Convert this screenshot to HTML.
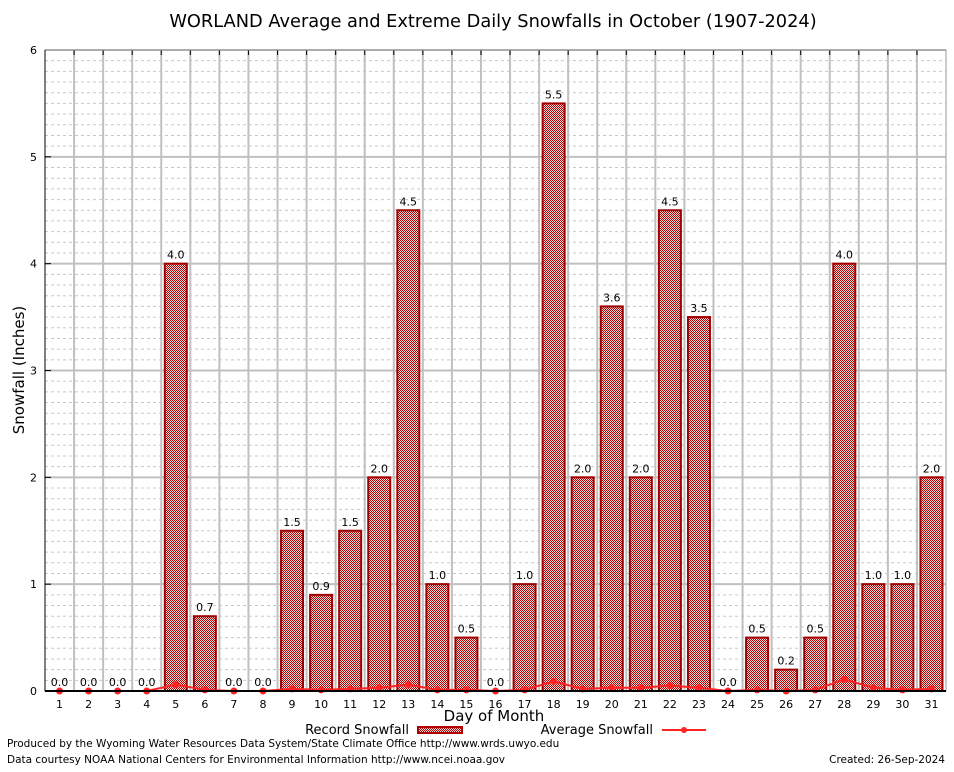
<!DOCTYPE html>
<html><head><meta charset="utf-8"><style>
body{margin:0;background:#fff;font-family:"DejaVu Sans","Liberation Sans",sans-serif;}
svg text{font-family:"DejaVu Sans","Liberation Sans",sans-serif;}
</style></head><body>
<svg id="c" width="954" height="768" xmlns="http://www.w3.org/2000/svg">
<defs><pattern id="hatch" width="2" height="2" patternUnits="userSpaceOnUse"><rect width="2" height="2" fill="#f4dada"/><rect width="1" height="1" fill="#b00000"/><rect x="1" y="1" width="1" height="1" fill="#b00000"/></pattern></defs>
<text x="493" y="27" font-size="17.8" text-anchor="middle">WORLAND Average and Extreme Daily Snowfalls in October (1907-2024)</text>
<g id="grid"></g><g id="bars"></g><g id="avg"></g><g id="axes"></g>
<text x="24" y="370" font-size="15" text-anchor="middle" transform="rotate(-90 24 370)">Snowfall (Inches)</text>
<text x="494" y="721" font-size="15" text-anchor="middle">Day of Month</text>
<g>
<text x="409" y="734" font-size="13" text-anchor="end">Record Snowfall</text>
<rect x="418" y="727" width="44" height="6" fill="url(#hatch)" stroke="#b00000" stroke-width="2"/>
<text x="653" y="734" font-size="13" text-anchor="end">Average Snowfall</text>
<line x1="662" y1="730" x2="706" y2="730" stroke="#f22" stroke-width="2"/>
<circle cx="684" cy="730" r="3" fill="#f22"/>
</g>
<text x="7" y="747" font-size="10.5">Produced by the Wyoming Water Resources Data System/State Climate Office http://www.wrds.uwyo.edu</text>
<text x="7" y="763" font-size="10.5">Data courtesy NOAA National Centers for Environmental Information http://www.ncei.noaa.gov</text>
<text x="945" y="763" font-size="10.5" text-anchor="end">Created: 26-Sep-2024</text>
</svg>
<script>
const days=[1,2,3,4,5,6,7,8,9,10,11,12,13,14,15,16,17,18,19,20,21,22,23,24,25,26,27,28,29,30,31];
const recordVals=[0,0,0,0,4.0,0.7,0,0,1.5,0.9,1.5,2.0,4.5,1.0,0.5,0,1.0,5.5,2.0,3.6,2.0,4.5,3.5,0,0.5,0.2,0.5,4.0,1.0,1.0,2.0];
const avgVals=[0,0,0,0,0.06,0.01,0,0,0.02,0.01,0.02,0.03,0.06,0.01,0.01,0,0.01,0.09,0.02,0.03,0.03,0.05,0.03,0,0.01,0,0.01,0.11,0.03,0.01,0.02];
const yTicks=[0,1,2,3,4,5,6];
const L=45,R=946,T=50,B=691,yMax=6;
const step=(R-L)/days.length;
const xc=d=>L+(d-0.5)*step;
const y=v=>B-(v/yMax)*(B-T);
const NS="http://www.w3.org/2000/svg";
function mk(p,tag,a){const e=document.createElementNS(NS,tag);for(const k in a)e.setAttribute(k,a[k]);document.getElementById(p).appendChild(e);return e;}
for(let v=0.1;v<yMax-0.01;v+=0.1){if(Math.abs(v-Math.round(v))<0.01)continue;
const g=mk('grid','line',{x1:L,x2:R,y1:y(v),y2:y(v),stroke:'#c8c8c8','stroke-dasharray':'3,3','stroke-width':1});

}
yTicks.forEach(t=>{const g=mk('grid','line',{x1:L,x2:R,y1:y(t),y2:y(t),stroke:'#c0c0c0','stroke-width':2});


const tx=mk('axes','text',{x:L-8,y:y(t)+4,'font-size':11,'text-anchor':'end'});tx.textContent=t;


const tk=mk('axes','line',{x1:L,x2:L+6,y1:y(t),y2:y(t),stroke:'#000','stroke-width':1});

});
for(let i=1;i<days.length;i++){const x=L+i*step;
const g=mk('grid','line',{x1:x,x2:x,y1:T,y2:B,stroke:'#c0c0c0','stroke-width':2});


const tk=mk('axes','line',{x1:x,x2:x,y1:T,y2:T+5,stroke:'#000'});

}
days.forEach((d,i)=>{const v=recordVals[i];
if(v>0){const b=mk('bars','rect',{x:xc(d)-11,y:y(v),width:22,height:B-y(v),fill:'url(#hatch)',stroke:'#a00000','stroke-width':2});

}
const lb=mk('bars','text',{x:xc(d),y:y(v)-5,'font-size':11,'text-anchor':'middle'});lb.textContent=v.toFixed(1);


const xl=mk('axes','text',{x:xc(d),y:B+17,'font-size':11,'text-anchor':'middle','font-family':'Liberation Serif, serif'});xl.textContent=d;

});
const pts=days.map((d,i)=>xc(d)+','+y(avgVals[i])).join(' ');
const pl=mk('avg','polyline',{points:pts,fill:'none',stroke:'#f22','stroke-width':2});


days.forEach((d,i)=>{const c=mk('avg','circle',{cx:xc(d),cy:y(avgVals[i]),r:3.5,fill:'#f22'});

});
const fr=mk('axes','rect',{x:L,y:T,width:R-L,height:B-T,fill:'none',stroke:'#999','stroke-width':1});


const xa=mk('axes','line',{x1:L,x2:R,y1:B,y2:B,stroke:'#000','stroke-width':2});


const ya=mk('axes','line',{x1:L,x2:L,y1:T,y2:B,stroke:'#000','stroke-width':1});


</script>
</body></html>
